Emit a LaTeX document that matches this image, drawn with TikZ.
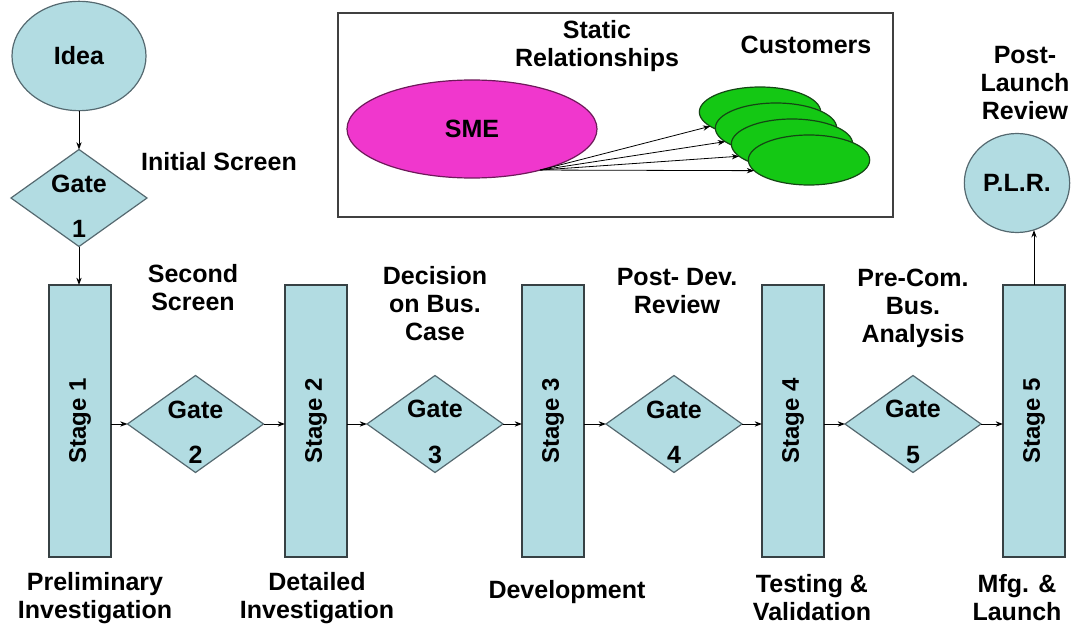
\documentclass[tikz,border=0pt]{standalone}
\usepackage{fontspec}
\setmainfont{Liberation Sans}
\usetikzlibrary{shapes.geometric,arrows.meta}

\definecolor{stagefill}{RGB}{178,220,226}
\definecolor{stageline}{RGB}{55,65,68}
\definecolor{gateline}{RGB}{85,105,112}
\definecolor{smefill}{RGB}{240,55,205}
\definecolor{smeline}{RGB}{110,25,90}
\definecolor{custfill}{RGB}{20,200,20}
\definecolor{custline}{RGB}{20,70,20}

\tikzset{
  lbl/.style={font=\bfseries\fontsize{18.75}{21}\selectfont, align=center, inner sep=0pt},
  stagebox/.style={rectangle, draw=stageline, fill=stagefill, line width=0.9pt,
    minimum width=46.5pt, minimum height=204pt, inner sep=0pt, outer sep=0pt},
  stagetext/.style={font=\bfseries\fontsize{18}{21}\selectfont, rotate=90, inner sep=0pt},
  gatebox/.style={diamond, draw=gateline, fill=stagefill, line width=0.9pt,
    minimum width=102pt, minimum height=72.75pt, inner sep=0pt, outer sep=0pt},
  gatetext/.style={font=\bfseries\fontsize{18.75}{21}\selectfont, align=center, inner sep=0pt},
  roundbox/.style={ellipse, draw=gateline, fill=stagefill, line width=0.9pt,
    inner sep=0pt, outer sep=0pt, font=\bfseries\fontsize{18.75}{21}\selectfont},
  custbox/.style={ellipse, draw=custline, fill=custfill, line width=0.9pt,
    minimum width=91pt, minimum height=37.5pt, inner sep=0pt, outer sep=0pt},
  arr/.style={-{Stealth[length=5.5pt,width=4pt]}, line width=0.75pt, black},
  thinarr/.style={-{Stealth[length=5.5pt,width=4pt]}, line width=0.6pt, black},
}

\begin{document}
\begin{tikzpicture}[x=0.75pt,y=-0.75pt]
\useasboundingbox (0,0) rectangle (1073,631);

% ---- start of the process ----
\node[roundbox, minimum width=100.5pt, minimum height=82pt] (idea) at (79,56) {Idea};
\node[gatebox] (g1) at (79,198) {};
\node[gatetext] (g1t) at ([yshift=-6pt]g1.center) {Gate\\[13pt]1};
\node[lbl] (initial) at (219,162) {Initial Screen};

% ---- stages ----
\node[stagebox] (s1) at (80,421) {};
\node[stagebox] (s2) at (316,421) {};
\node[stagebox] (s3) at (553,421) {};
\node[stagebox] (s4) at (793,421) {};
\node[stagebox] (s5) at (1034,421) {};
\node[stagetext] (s1t) at (s1.center) {Stage 1};
\node[stagetext] (s2t) at (s2.center) {Stage 2};
\node[stagetext] (s3t) at (s3.center) {Stage 3};
\node[stagetext] (s4t) at (s4.center) {Stage 4};
\node[stagetext] (s5t) at (s5.center) {Stage 5};

% ---- gates between stages ----
\node[gatebox] (g2) at (195.5,424) {};
\node[gatebox] (g3) at (435,424) {};
\node[gatebox] (g4) at (674,424) {};
\node[gatebox] (g5) at (913,424) {};
\node[gatetext] (g2t) at ([yshift=-6pt]g2.center) {Gate\\[13pt]2};
\node[gatetext] (g3t) at ([yshift=-6pt]g3.center) {Gate\\[13pt]3};
\node[gatetext] (g4t) at ([yshift=-6pt]g4.center) {Gate\\[13pt]4};
\node[gatetext] (g5t) at ([yshift=-6pt]g5.center) {Gate\\[13pt]5};

% ---- review after launch ----
\node[roundbox, minimum width=79pt, minimum height=74.25pt] (plr) at (1017,183) {P.L.R.};

% ---- gate captions ----
\node[lbl] (cap2) at (193,288) {Second\\Screen};
\node[lbl] (cap3) at (435,304) {Decision\\on Bus.\\Case};
\node[lbl] (cap4) at (677,291) {Post- Dev.\\Review};
\node[lbl] (cap5) at (913,308) {Pre-Com.\\Bus.\\Analysis};
\node[lbl] (capplr) at (1025,83) {Post-\\Launch\\Review};

% ---- stage captions ----
\node[lbl] (cs1) at (95,598) {Preliminary\\Investigation};
\node[lbl] (cs2) at (317,598) {Detailed\\Investigation};
\node[lbl] (cs3) at (567,592) {Development};
\node[lbl] (cs4) at (812,598) {Testing \&\\Validation};
\node[lbl] (cs5) at (1017,598) {Mfg. \&\\Launch};

% ---- flow arrows ----
\draw[arr] (idea.south) -- (g1.north);
\draw[arr] (g1.south) -- (s1.north -| g1.south);
\draw[arr] (s1.east |- g2.west) -- (g2.west);
\draw[arr] (g2.east) -- (s2.west |- g2.east);
\draw[arr] (s2.east |- g3.west) -- (g3.west);
\draw[arr] (g3.east) -- (s3.west |- g3.east);
\draw[arr] (s3.east |- g4.west) -- (g4.west);
\draw[arr] (g4.east) -- (s4.west |- g4.east);
\draw[arr] (s4.east |- g5.west) -- (g5.west);
\draw[arr] (g5.east) -- (s5.west |- g5.east);
\draw[arr] (s5.north) -- (s5.north |- plr.-71);

% ---- inset: static relationships ----
\node[rectangle, draw=black!75, line width=0.9pt, minimum width=416.25pt,
  minimum height=153pt, inner sep=0pt] (frame) at (615.5,115) {};
\node[lbl] (static) at (597,46) {Static\\Relationships};
\node[lbl] (customers) at (806,45) {Customers};
\node[ellipse, draw=smeline, fill=smefill, line width=0.9pt, minimum width=187.5pt,
  minimum height=73.5pt, inner sep=0pt, outer sep=0pt,
  font=\bfseries\fontsize{18.75}{21}\selectfont] (sme) at (472,129) {SME};
\node[custbox] (c1) at (760,112) {};
\node[custbox] (c2) at (776,128) {};
\node[custbox] (c3) at (792,144) {};
\node[custbox] (c4) at (809,160) {};
\coordinate (smeout) at (sme.-31);
\draw[thinarr] (smeout) -- (c1.196);
\draw[thinarr] (smeout) -- (c2.195);
\draw[thinarr] (smeout) -- (c3.193);
\draw[thinarr] (smeout) -- (c4.191);
\end{tikzpicture}
\end{document}
